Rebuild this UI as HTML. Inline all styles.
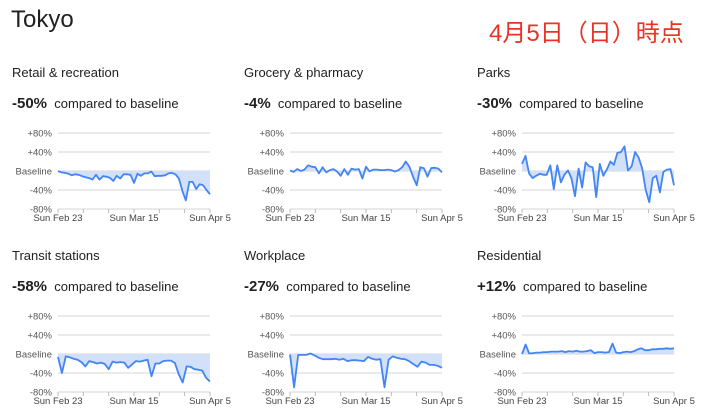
<!DOCTYPE html>
<html><head><meta charset="utf-8"><style>
body{margin:0;width:723px;height:415px;background:#fff;font-family:"Liberation Sans",Arial,sans-serif;overflow:hidden;position:relative}
.t{position:absolute;white-space:nowrap;color:#202124}
</style></head><body>
<div class="t" style="left:11px;top:6px;font-size:24px">Tokyo</div>
<div class="t" style="left:489px;top:13px;font-size:24px;color:#ea3323;font-family:'Liberation Sans','Noto Sans CJK JP',sans-serif">4月5日（日）時点</div>

<div class="t" style="left:12px;top:65px;font-size:13px">Retail &amp; recreation</div>
<div class="t" style="left:244px;top:65px;font-size:13px">Grocery &amp; pharmacy</div>
<div class="t" style="left:477px;top:65px;font-size:13px">Parks</div>
<div class="t" style="left:12px;top:95px;font-size:13px"><b style="font-size:15px">-50%</b>&nbsp;&nbsp;compared to baseline</div>
<div class="t" style="left:244px;top:95px;font-size:13px"><b style="font-size:15px">-4%</b>&nbsp;&nbsp;compared to baseline</div>
<div class="t" style="left:477px;top:95px;font-size:13px"><b style="font-size:15px">-30%</b>&nbsp;&nbsp;compared to baseline</div>

<div class="t" style="left:12px;top:248px;font-size:13px">Transit stations</div>
<div class="t" style="left:244px;top:248px;font-size:13px">Workplace</div>
<div class="t" style="left:477px;top:248px;font-size:13px">Residential</div>
<div class="t" style="left:12px;top:278px;font-size:13px"><b style="font-size:15px">-58%</b>&nbsp;&nbsp;compared to baseline</div>
<div class="t" style="left:244px;top:278px;font-size:13px"><b style="font-size:15px">-27%</b>&nbsp;&nbsp;compared to baseline</div>
<div class="t" style="left:477px;top:278px;font-size:13px"><b style="font-size:15px">+12%</b>&nbsp;&nbsp;compared to baseline</div>

<svg id="s" width="723" height="415" style="position:absolute;left:0;top:0"></svg>
<script>
var D=[
[58,171,[0,-3,-4,-6,-9,-7,-8,-11,-13,-15,-18,-8,-18,-11,-12,-14,-21,-10,-16,-7,-7,-8,-25,-6,-10,-5,-5,-1,-11,-10,-10,-9,-5,-4,-7,-16,-42,-62,-23,-23,-38,-28,-30,-40,-49]],
[290,171,[1,-2,4,0,3,12,9,8,-5,8,-3,2,4,-1,-10,4,-8,5,3,4,-16,9,-1,3,3,2,2,3,2,-1,2,8,20,9,-12,-30,8,6,-12,6,7,5,-3]],
[522,171,[15,32,-5,-15,-10,-6,-8,-8,12,-38,12,-24,-8,1,-16,-53,5,-35,18,10,8,-55,15,-10,3,20,13,38,40,52,1,10,40,28,5,-40,-66,-15,-10,-45,-2,3,4,-30]],
[58,354,[-6,-40,-5,-7,-10,-12,-17,-26,-15,-17,-20,-18,-21,-32,-16,-18,-17,-18,-29,-22,-15,-16,-14,-12,-47,-20,-20,-15,-14,-14,-19,-43,-60,-26,-27,-32,-33,-35,-50,-58]],
[290,354,[-1,-70,-2,-2,-2,1,-3,-8,-11,-11,-11,-10,-12,-10,-15,-13,-13,-14,-15,-6,-10,-12,-11,-70,-12,-5,-8,-10,-11,-15,-21,-27,-16,-18,-23,-23,-25,-29]],
[522,354,[0,20,1,2,3,3,4,4,5,5,5,6,4,6,5,7,5,5,6,8,2,4,4,3,4,22,3,2,4,5,4,6,10,12,8,8,10,10,11,11,12,11,12]]
];
var s='',ns='';
D.forEach(function(d){
 var x0=d[0],yb=d[1],w=152,v=d[2],k=19/40;
 [80,40,-40,-80].forEach(function(p){s+='<line x1="'+x0+'" x2="'+(x0+w)+'" y1="'+(yb-p*k)+'" y2="'+(yb-p*k)+'" stroke="#e3e3e3" stroke-width="1.5"/>';});
 s+='<line x1="'+x0+'" x2="'+(x0+w)+'" y1="'+yb+'" y2="'+yb+'" stroke="#d6d6d6" stroke-width="1"/>';
 var labs=['+80%','+40%','Baseline','-40%','-80%'];
 labs.forEach(function(l,i){s+='<text x="'+(x0-6)+'" y="'+(yb-38+i*19+3.5)+'" font-size="9.5" fill="#555" text-anchor="end" font-family="Liberation Sans,Arial,sans-serif">'+l+'</text>';});
 for(var i=0;i<=6;i++){var tx=x0+i*w/6;s+='<line x1="'+tx+'" x2="'+tx+'" y1="'+(yb+38)+'" y2="'+(yb+42)+'" stroke="#bbb"/>';}
 [['Sun Feb 23',0],['Sun Mar 15',3],['Sun Apr 5',6]].forEach(function(a){s+='<text x="'+(x0+a[1]*w/6)+'" y="'+(yb+50)+'" font-size="9.5" fill="#444" text-anchor="middle" font-family="Liberation Sans,Arial,sans-serif">'+a[0]+'</text>';});
 var pts=v.map(function(p,i){return (x0+i*w/(v.length-1)).toFixed(1)+','+(yb-p*k).toFixed(1);});
 s+='<polygon points="'+x0+','+yb+' '+pts.join(' ')+' '+(x0+w)+','+yb+'" fill="#d2e0fa"/>';
 ns+='<polyline points="'+pts.join(' ')+'" fill="none" stroke="#4285f4" stroke-width="1.8" stroke-linejoin="round"/>';
});
document.getElementById('s').innerHTML=s+ns;
</script>
</body></html>
